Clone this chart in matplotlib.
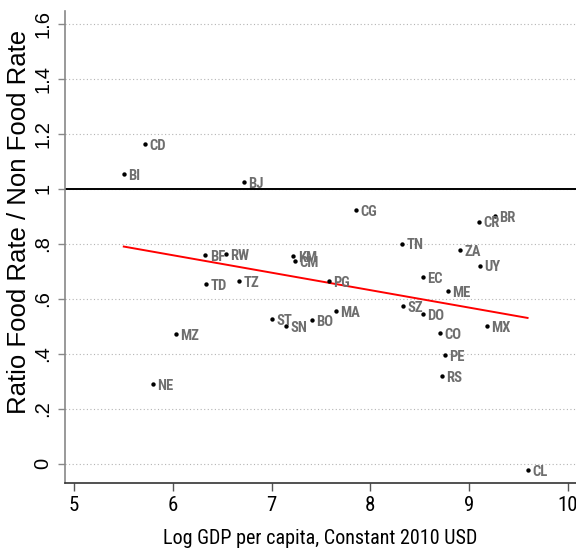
import numpy as np
import matplotlib
matplotlib.use("Agg")
from matplotlib import pyplot as plt

# country codes, log gdp per capita, ratio food / non food rate
codes = ["CD", "BI", "BJ", "CG", "CR", "BR", "TN", "ZA", "UY", "KM", "CM",
         "BF", "RW", "EC", "ME", "PG", "TD", "TZ", "SZ", "DO", "MA", "BO",
         "ST", "SN", "CO", "MX", "PE", "RS", "MZ", "NE", "CL"]
log_gdp = [5.72, 5.505, 6.717, 7.85, 9.10, 9.26, 8.32, 8.91, 9.11, 7.22, 7.24,
           6.33, 6.54, 8.53, 8.78, 7.58, 6.34, 6.67, 8.33, 8.53, 7.65, 7.41,
           7.00, 7.15, 8.70, 9.18, 8.75, 8.72, 6.03, 5.80, 9.59]
ratio = [1.162, 1.053, 1.024, 0.922, 0.880, 0.900, 0.800, 0.776, 0.720, 0.755, 0.736,
         0.758, 0.762, 0.678, 0.627, 0.664, 0.653, 0.664, 0.573, 0.544, 0.555, 0.522,
         0.525, 0.500, 0.475, 0.500, 0.395, 0.318, 0.471, 0.289, -0.024]

yticks = [0, 0.2, 0.4, 0.6, 0.8, 1.0, 1.2, 1.4, 1.6]
ytick_labels = ["0", ".2", ".4", ".6", ".8", "1", "1.2", "1.4", "1.6"]
xticks = [5, 6, 7, 8, 9, 10]

narrow = ["Roboto Condensed", "DejaVu Sans"]
plt.rcParams['font.family'] = ["Liberation Sans", "DejaVu Sans"]

fig = plt.figure(figsize=(5.76, 5.58), dpi=100)
ax = fig.add_axes([0.1128, 0.1344, 0.8872, 0.8459])

x = np.array(log_gdp)
y = np.array(ratio)

for t in yticks:
  ax.axhline(t, color="#b4b4b4", linewidth=0.8, linestyle=(0, (1, 2.2)), zorder=1)
ax.axhline(1.0, color="black", linewidth=1.4, zorder=2)

# linear fit over the data range
b, a = np.polyfit(x, y, 1)
xf = np.array([x.min(), x.max()])
ax.plot(xf, a + b * xf, color="red", linewidth=1.4, zorder=3)

ax.scatter(x, y, s=10, color="black", zorder=4, linewidths=0)
for c, xi, yi in zip(codes, x, y):
  ax.annotate(c, (xi, yi), xytext=(3.2, -1.0), textcoords="offset points",
              ha="left", va="center", fontsize=10.5, fontweight="bold",
              color="#6e6e6e", family=narrow, zorder=5)

ax.set_xlim(4.91, 10.08)
ax.set_ylim(-0.07, 1.647)
ax.set_xticks(xticks)
ax.set_xticklabels([str(v) for v in xticks], family=narrow, fontsize=15)
ax.set_yticks(yticks)
ax.set_yticklabels(ytick_labels, rotation=90, va="center", fontsize=14.5)
ax.tick_params(axis="x", direction="out", length=6, width=1, pad=3,
               colors="#555555", labelcolor="black")
ax.tick_params(axis="y", direction="out", length=5, width=1, pad=4,
               colors="#888888", labelcolor="black")

ax.spines["top"].set_visible(False)
ax.spines["right"].set_visible(False)
ax.spines["left"].set_color("#888888")
ax.spines["bottom"].set_color("#333333")
ax.spines["left"].set_linewidth(1.2)
ax.spines["bottom"].set_linewidth(1.2)

fig.text(320 / 576, 1 - 539 / 558, "Log GDP per capita, Constant 2010 USD",
         family=narrow, fontsize=14.5, ha="center", va="center")
fig.text(19 / 576, 1 - 222 / 558, "Ratio Food Rate / Non Food Rate",
         fontsize=18.5, rotation=90, ha="center", va="center")

fig.savefig("out.png", dpi=100)
